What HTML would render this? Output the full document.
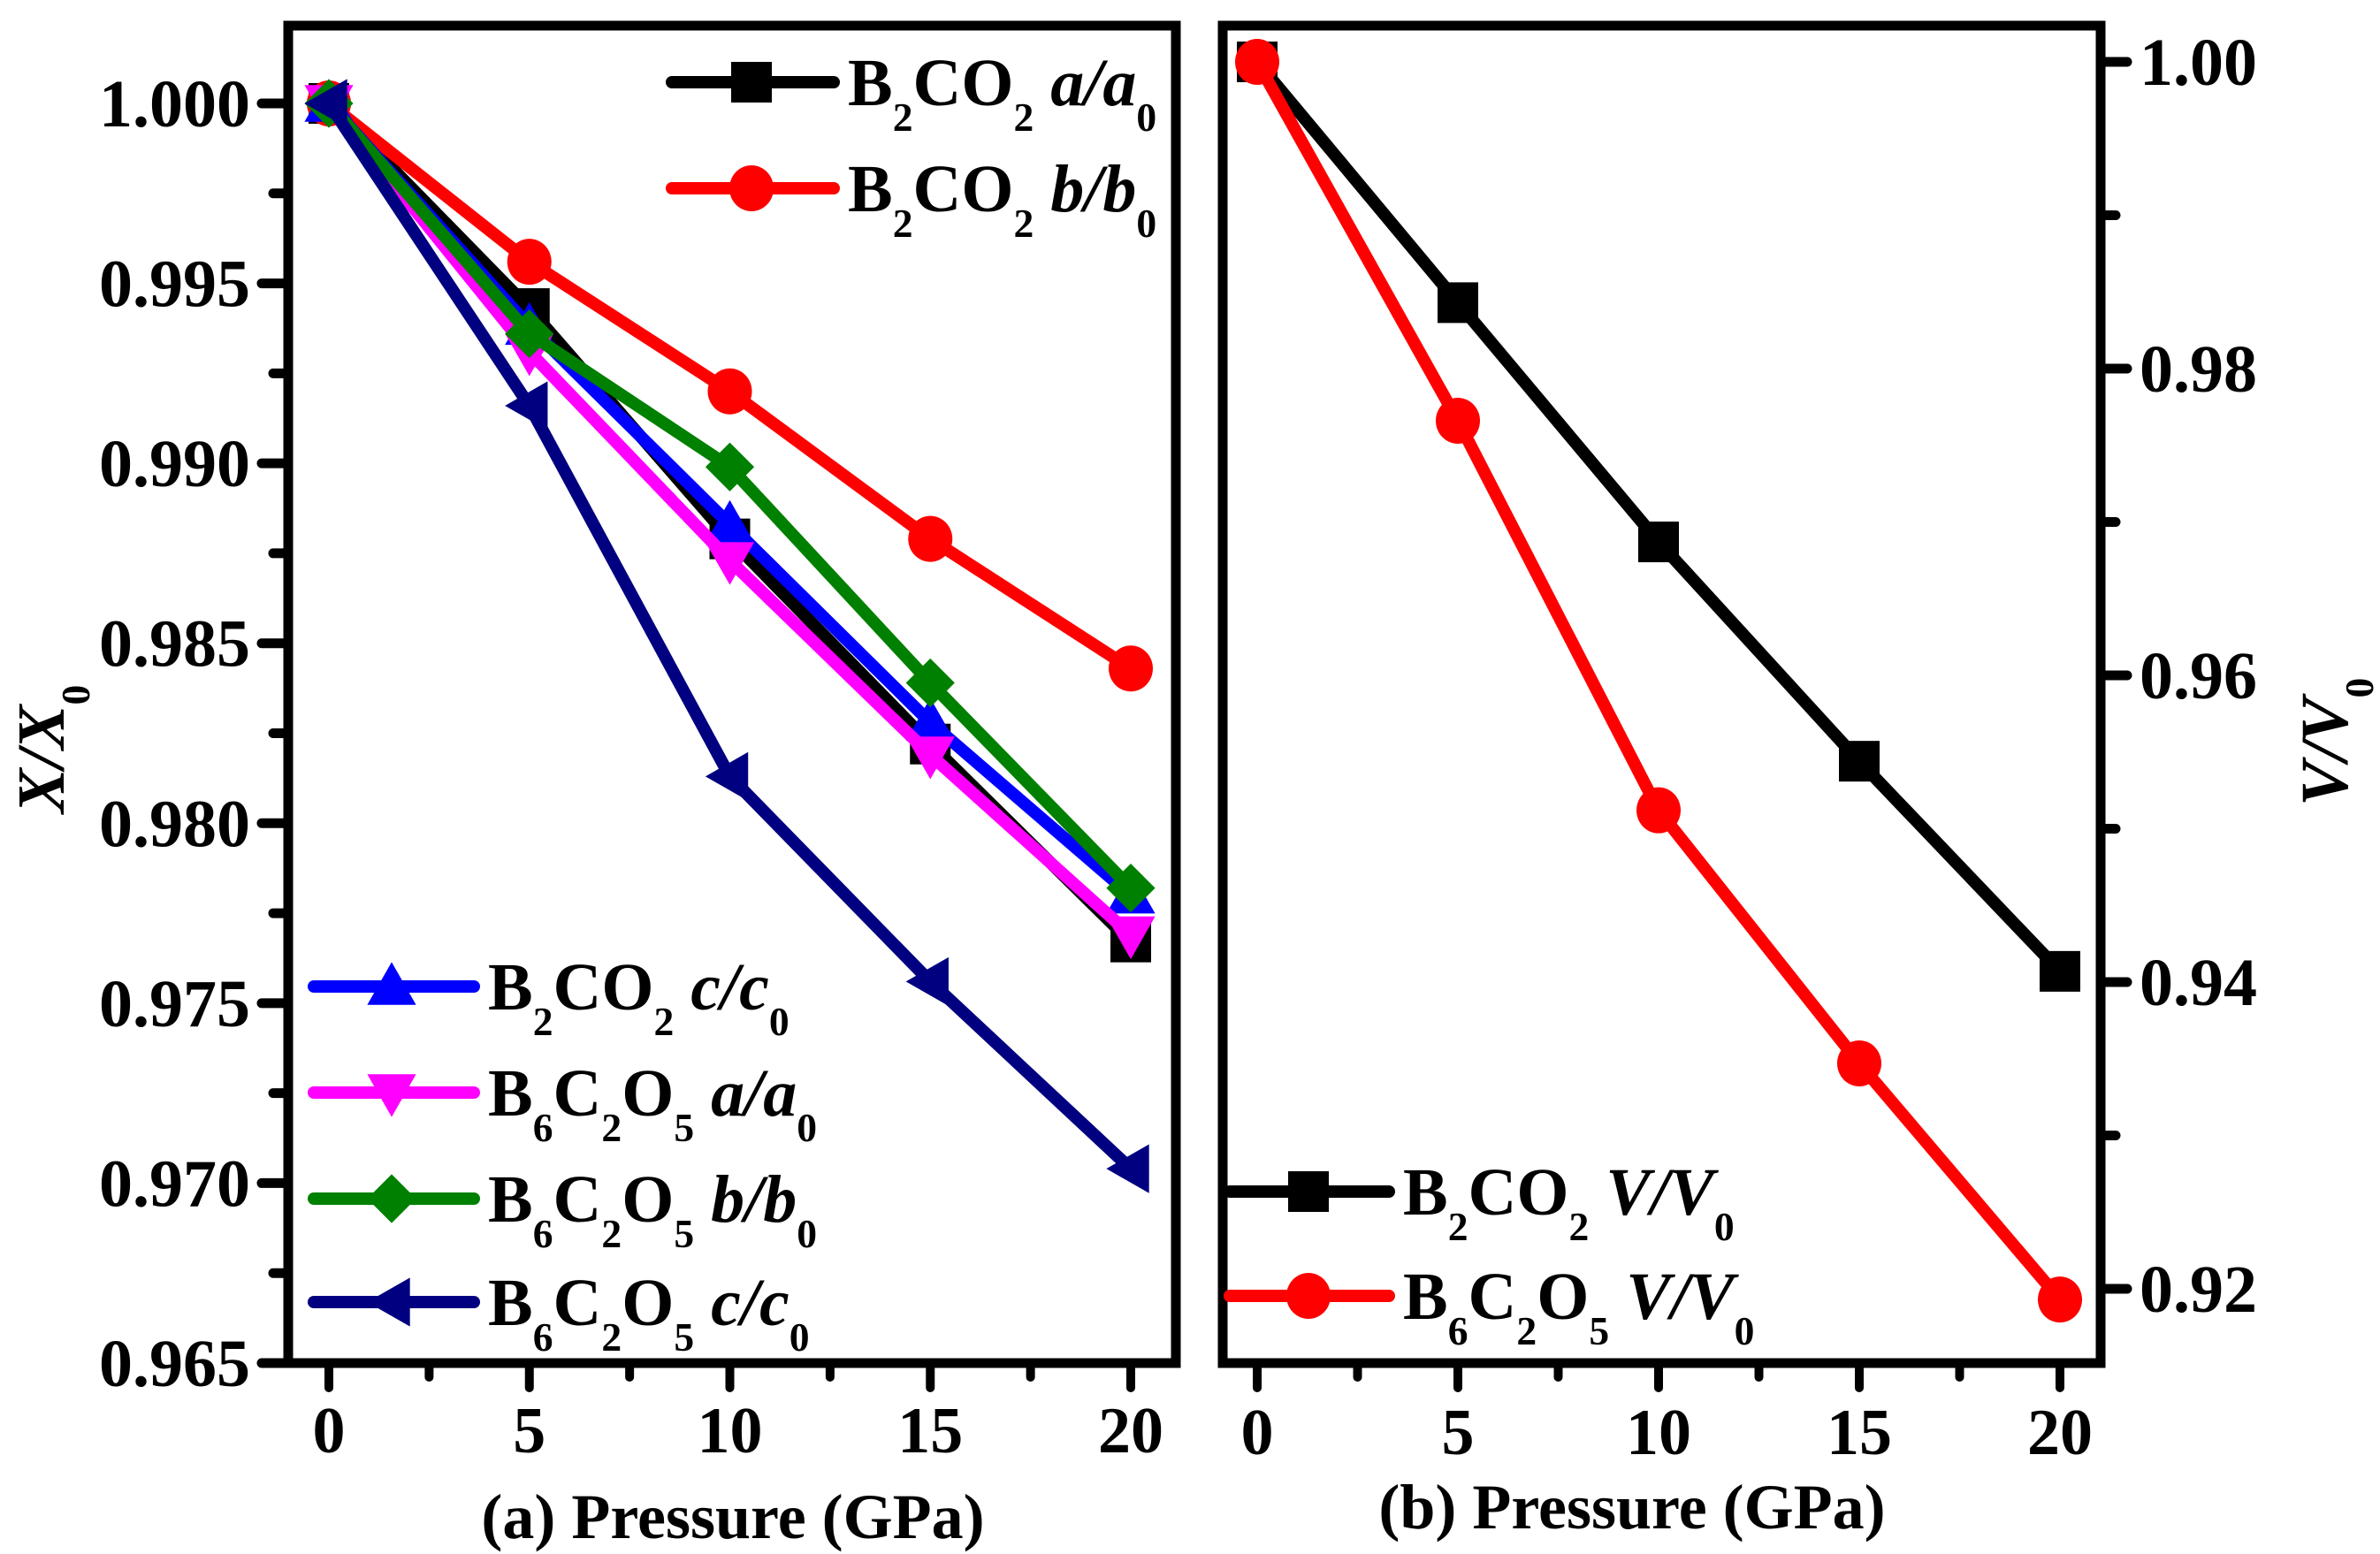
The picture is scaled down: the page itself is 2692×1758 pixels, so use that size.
<!DOCTYPE html>
<html><head><meta charset="utf-8"><style>
html,body{margin:0;padding:0;background:#fff;}
svg{display:block;font-family:"Liberation Serif",serif;font-weight:bold;}
</style></head><body>
<svg id="chart" width="2692" height="1758" viewBox="0 0 2692 1758" xmlns="http://www.w3.org/2000/svg">
<g id="pa"></g>
<g id="pb"></g>
</svg>
<script>
// ----- data -----
const pressures = [0, 5, 10, 15, 20];
const b2co2_a = [1.0000, 0.9943, 0.9879, 0.9822, 0.9767];
const b2co2_b = [1.0000, 0.9956, 0.9920, 0.9879, 0.9843];
const b2co2_c = [1.0000, 0.9938, 0.9883, 0.9828, 0.9780];
const b6c2o5_a = [1.0000, 0.9931, 0.9873, 0.9819, 0.9769];
const b6c2o5_b = [1.0000, 0.9936, 0.9899, 0.9839, 0.9782];
const b6c2o5_c = [1.0000, 0.9916, 0.9813, 0.9756, 0.9704];
const b2co2_V = [1.0000, 0.9843, 0.9687, 0.9544, 0.9407];
const b6c2o5_V = [1.0000, 0.9766, 0.9512, 0.9347, 0.9193];
const xTicks = [0, 5, 10, 15, 20];
const yTicksA = [1.000, 0.995, 0.990, 0.985, 0.980, 0.975, 0.970, 0.965];
const yTickLabelsA = ["1.000","0.995","0.990","0.985","0.980","0.975","0.970","0.965"];
const yTicksB = [1.00, 0.98, 0.96, 0.94, 0.92];
const yTickLabelsB = ["1.00","0.98","0.96","0.94","0.92"];

const NS = "http://www.w3.org/2000/svg";
function mk(parent, tag, attrs) {
  const e = document.createElementNS(NS, tag);
  for (const k in attrs) e.setAttribute(k, attrs[k]);
  parent.appendChild(e);
  return e;
}
const xA = p => 372 + (p - 0) / 20 * (1279 - 372);
const yA = v => 117 + (1.0 - v) / 0.035 * (1542 - 117);
const xB = p => 1422 + p / 20 * (2330 - 1422);
const yB = v => 70 + (1.0 - v) / 0.08 * (1458 - 70);

function marker(g, type, cx, cy, color, s) {
  let e;
  if (type === 'square') e = mk(g, 'rect', {x: cx - s/2, y: cy - s/2, width: s, height: s, fill: color});
  else if (type === 'circle') e = mk(g, 'ellipse', {cx: cx, cy: cy, rx: s/2 + 2, ry: s/2 + 3, fill: color});
  else if (type === 'up') e = mk(g, 'polygon', {points: `${cx},${cy - s*0.6} ${cx + s*0.6},${cy + s*0.45} ${cx - s*0.6},${cy + s*0.45}`, fill: color});
  else if (type === 'down') e = mk(g, 'polygon', {points: `${cx},${cy + s*0.6} ${cx + s*0.6},${cy - s*0.45} ${cx - s*0.6},${cy - s*0.45}`, fill: color});
  else if (type === 'diamond') e = mk(g, 'polygon', {points: `${cx},${cy - s*0.6} ${cx + s*0.6},${cy} ${cx},${cy + s*0.6} ${cx - s*0.6},${cy}`, fill: color});
  else if (type === 'left') e = mk(g, 'polygon', {points: `${cx - s*0.6},${cy} ${cx + s*0.45},${cy - s*0.6} ${cx + s*0.45},${cy + s*0.6}`, fill: color});
  return e;
}
function series(g, xs, ys, xf, yf, color, type, name) {
  const sg = mk(g, 'g', {});
  
  
  const pts = xs.map((x, i) => xf(x) + ',' + yf(ys[i])).join(' ');
  const l = mk(sg, 'polyline', {points: pts, fill: 'none', stroke: color, 'stroke-width': 14, 'stroke-linejoin': 'round', 'stroke-linecap': 'round'});
  
  
  xs.forEach((x, i) => {
    const m = marker(sg, type, xf(x), yf(ys[i]), color, 46);
    
    
  });
}
function label(g, x, y, parts, size) {
  const t = mk(g, 'text', {x: x, y: y, 'font-size': size});
  parts.forEach(p => {
    const ts = mk(t, 'tspan', {});
    ts.textContent = p[0];
    if (p[1] === 's') { ts.setAttribute('font-size', size * 0.6); ts.setAttribute('dy', size * 0.38); }
    if (p[1] === 'i') { ts.setAttribute('font-style', 'italic'); }
    if (p[2]) ts.setAttribute('dy', p[2]);
  });
  return t;
}
function legendEntry(g, x1, x2, mx, y, color, type, parts, name) {
  const lg = mk(g, 'g', {});
  
  
  mk(lg, 'line', {x1: x1, y1: y, x2: x2, y2: y, stroke: color, 'stroke-width': 14, 'stroke-linecap': 'round'});
  marker(lg, type, mx, y, color, 46);
  label(lg, x2 + 16, y + 26, parts, 76);
}

// ----- Panel A -----
const pa = document.getElementById('pa');
const A = {l: 326, r: 1330, t: 29, b: 1542};
const axA = mk(pa, 'g', {});


yTicksA.forEach((v, i) => {
  mk(axA, 'line', {x1: A.l - 30, y1: yA(v), x2: A.l, y2: yA(v), stroke: '#000', 'stroke-width': 11, 'stroke-linecap': 'round'});
  if (i < yTicksA.length - 1) {
    const mv = v - 0.0025;
    mk(axA, 'line', {x1: A.l - 17, y1: yA(mv), x2: A.l, y2: yA(mv), stroke: '#000', 'stroke-width': 11, 'stroke-linecap': 'round'});
  }
  const t = mk(axA, 'text', {x: 283, y: yA(v) + 26, 'font-size': 76, 'text-anchor': 'end'});
  t.textContent = yTickLabelsA[i];
  
  
});
xTicks.forEach((p, i) => {
  mk(axA, 'line', {x1: xA(p), y1: A.b, x2: xA(p), y2: A.b + 28, stroke: '#000', 'stroke-width': 10, 'stroke-linecap': 'round'});
  if (i < xTicks.length - 1) mk(axA, 'line', {x1: xA(p + 2.5), y1: A.b, x2: xA(p + 2.5), y2: A.b + 16, stroke: '#000', 'stroke-width': 10, 'stroke-linecap': 'round'});
  const t = mk(axA, 'text', {x: xA(p), y: 1643, 'font-size': 74, 'text-anchor': 'middle'});
  t.textContent = p;
  
  
});
series(pa, pressures, b2co2_a, xA, yA, '#000000', 'square', 'b2co2-a');
series(pa, pressures, b2co2_b, xA, yA, '#ff0000', 'circle', 'b2co2-b');
series(pa, pressures, b2co2_c, xA, yA, '#0000ff', 'up', 'b2co2-c');
series(pa, pressures, b6c2o5_a, xA, yA, '#ff00ff', 'down', 'b6c2o5-a');
series(pa, pressures, b6c2o5_b, xA, yA, '#008000', 'diamond', 'b6c2o5-b');
series(pa, pressures, b6c2o5_c, xA, yA, '#000080', 'left', 'b6c2o5-c');
mk(pa, 'rect', {x: A.l, y: A.t, width: A.r - A.l, height: A.b - A.t, fill: 'none', stroke: '#000', 'stroke-width': 11});
legendEntry(pa, 760, 943, 850, 93, '#000000', 'square', [['B'],['2','s'],['CO',,-76*0.38],['2','s'],[' '],['a','i',-76*0.38],['/','i'],['a','i'],['0','s']], 'legend-b2co2-a');
legendEntry(pa, 760, 943, 850, 213, '#ff0000', 'circle', [['B'],['2','s'],['CO',,-76*0.38],['2','s'],[' '],['b','i',-76*0.38],['/','i'],['b','i'],['0','s']], 'legend-b2co2-b');
legendEntry(pa, 355, 536, 443, 1116, '#0000ff', 'up', [['B'],['2','s'],['CO',,-76*0.38],['2','s'],[' '],['c','i',-76*0.38],['/','i'],['c','i'],['0','s']], 'legend-b2co2-c');
legendEntry(pa, 355, 536, 443, 1236, '#ff00ff', 'down', [['B'],['6','s'],['C',,-76*0.38],['2','s'],['O',,-76*0.38],['5','s'],[' '],['a','i',-76*0.38],['/','i'],['a','i'],['0','s']], 'legend-b6c2o5-a');
legendEntry(pa, 355, 536, 443, 1356, '#008000', 'diamond', [['B'],['6','s'],['C',,-76*0.38],['2','s'],['O',,-76*0.38],['5','s'],[' '],['b','i',-76*0.38],['/','i'],['b','i'],['0','s']], 'legend-b6c2o5-b');
legendEntry(pa, 355, 536, 443, 1473, '#000080', 'left', [['B'],['6','s'],['C',,-76*0.38],['2','s'],['O',,-76*0.38],['5','s'],[' '],['c','i',-76*0.38],['/','i'],['c','i'],['0','s']], 'legend-b6c2o5-c');
{
  const t = mk(pa, 'text', {x: 829, y: 1740, 'font-size': 72, 'text-anchor': 'middle'});
  t.textContent = '(a) Pressure (GPa)';
  
  
  const yt = label(pa, 0, 0, [['X','i'],['/','i'],['X','i'],['0','s']], 76);
  yt.setAttribute('transform', 'translate(72,920) rotate(-90)');
  
  
}

// ----- Panel B -----
const pb = document.getElementById('pb');
const B = {l: 1383, r: 2376, t: 29, b: 1542};
const axB = mk(pb, 'g', {});


yTicksB.forEach((v, i) => {
  mk(axB, 'line', {x1: B.r, y1: yB(v), x2: B.r + 30, y2: yB(v), stroke: '#000', 'stroke-width': 11, 'stroke-linecap': 'round'});
  const mv = v - 0.01;
  if (yB(mv) < B.b) mk(axB, 'line', {x1: B.r, y1: yB(mv), x2: B.r + 17, y2: yB(mv), stroke: '#000', 'stroke-width': 11, 'stroke-linecap': 'round'});
  const t = mk(axB, 'text', {x: 2420, y: yB(v) + 26, 'font-size': 76});
  t.textContent = yTickLabelsB[i];
  
  
});
xTicks.forEach((p, i) => {
  mk(axB, 'line', {x1: xB(p), y1: B.b, x2: xB(p), y2: B.b + 28, stroke: '#000', 'stroke-width': 10, 'stroke-linecap': 'round'});
  if (i < xTicks.length - 1) mk(axB, 'line', {x1: xB(p + 2.5), y1: B.b, x2: xB(p + 2.5), y2: B.b + 16, stroke: '#000', 'stroke-width': 10, 'stroke-linecap': 'round'});
  const t = mk(axB, 'text', {x: xB(p), y: 1645, 'font-size': 74, 'text-anchor': 'middle'});
  t.textContent = p;
  
  
});
series(pb, pressures, b2co2_V, xB, yB, '#000000', 'square', 'b2co2-v');
series(pb, pressures, b6c2o5_V, xB, yB, '#ff0000', 'circle', 'b6c2o5-v');
mk(pb, 'rect', {x: B.l, y: B.t, width: B.r - B.l, height: B.b - B.t, fill: 'none', stroke: '#000', 'stroke-width': 11});
legendEntry(pb, 1391, 1571, 1480, 1348, '#000000', 'square', [['B'],['2','s'],['CO',,-76*0.38],['2','s'],[' '],['V','i',-76*0.38],['/','i'],['V','i'],['0','s']], 'legend-b2co2-v');
legendEntry(pb, 1391, 1571, 1480, 1466, '#ff0000', 'circle', [['B'],['6','s'],['C',,-76*0.38],['2','s'],['O',,-76*0.38],['5','s'],[' '],['V','i',-76*0.38],['/','i'],['V','i'],['0','s']], 'legend-b6c2o5-v');
{
  const t = mk(pb, 'text', {x: 1846, y: 1729, 'font-size': 72, 'text-anchor': 'middle'});
  t.textContent = '(b) Pressure (GPa)';
  
  
  const yt = label(pb, 0, 0, [['V','i'],['/','i'],['V','i'],['0','s']], 76);
  yt.setAttribute('transform', 'translate(2655,912) rotate(-90)');
  
  
}
</script>
</body></html>
